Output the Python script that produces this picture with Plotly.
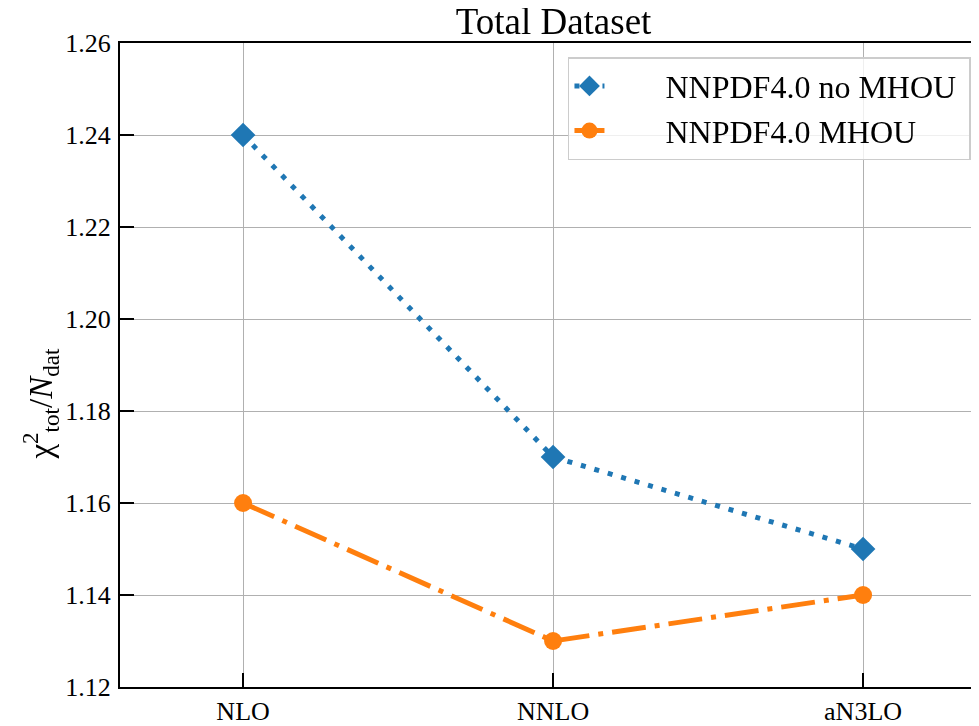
import plotly.graph_objects as go

categories = ["NLO", "NNLO", "aN3LO"]
no_mhou = [1.24, 1.17, 1.15]
mhou = [1.16, 1.13, 1.14]
y_ticks = [1.12, 1.14, 1.16, 1.18, 1.20, 1.22, 1.24, 1.26]
y_ticklabels = ["1.12", "1.14", "1.16", "1.18", "1.20", "1.22", "1.24", "1.26"]

FONT = "Liberation Serif"
BLUE = "#1f77b4"
ORANGE = "#ff7f0e"
NB = "\u00a0"

xidx = list(range(len(categories)))

fig = go.Figure()
fig.add_trace(go.Scatter(
    x=xidx, y=no_mhou, mode="lines+markers", name=NB * 7 + "NNPDF4.0 no MHOU" + NB,
    line=dict(color=BLUE, width=5, dash="5px,9px"),
    marker=dict(symbol="diamond", size=19, color=BLUE),
))
fig.add_trace(go.Scatter(
    x=xidx, y=mhou, mode="lines+markers", name=NB * 7 + "NNPDF4.0 MHOU",
    line=dict(color=ORANGE, width=5, dash="34px,9px,5px,9px"),
    marker=dict(symbol="circle", size=18, color=ORANGE),
))
# right-side ticks (axis overlay)
fig.add_trace(go.Scatter(
    x=xidx, y=mhou, yaxis="y2", mode="markers", showlegend=False,
    opacity=0, hoverinfo="skip", marker=dict(size=1),
))

fig.update_layout(
    width=971, height=718,
    margin=dict(l=112, r=0, t=35, b=35),
    paper_bgcolor="white", plot_bgcolor="white",
    font=dict(family=FONT, size=26, color="black"),
    title=dict(text="Total Dataset", font=dict(family=FONT, size=37, color="black"),
               x=0.5047, xanchor="center", xref="paper",
               y=0.982, yanchor="middle", yref="container"),
    xaxis=dict(
        range=[-0.397, 2.374], tickvals=xidx, ticktext=categories,
        showline=True, linecolor="black", linewidth=2, mirror=True,
        ticks="inside", ticklen=14, tickwidth=2, tickcolor="black",
        showgrid=True, gridcolor="#b0b0b0", gridwidth=1.2,
        zeroline=False, tickfont=dict(family=FONT, size=26),
    ),
    yaxis=dict(
        range=[1.12, 1.26], tickvals=y_ticks, ticktext=y_ticklabels,
        showline=True, linecolor="black", linewidth=2, mirror=False,
        ticks="inside", ticklen=14, tickwidth=2, tickcolor="black",
        showgrid=True, gridcolor="#b0b0b0", gridwidth=1.2,
        zeroline=False, tickfont=dict(family=FONT, size=26),
        ticklabelstandoff=2,
    ),
    yaxis2=dict(
        overlaying="y", side="right", range=[1.12, 1.26], tickvals=y_ticks,
        showticklabels=False, ticks="inside", ticklen=5, tickwidth=2,
        tickcolor="black", showline=False, showgrid=False, zeroline=False,
    ),
    legend=dict(
        x=0.5215, y=0.978, xanchor="left", yanchor="top",
        bgcolor="rgba(255,255,255,0.8)", bordercolor="#cccccc", borderwidth=1.5,
        font=dict(family=FONT, size=32, color="black"),
    ),
    annotations=[dict(
        text="χ<sup>2</sup><sub>tot</sub>/<i>N</i><sub>dat</sub>",
        xref="paper", yref="paper", x=-0.092, y=0.44,
        xanchor="center", yanchor="middle", textangle=-90, showarrow=False,
        font=dict(family=FONT, size=33, color="black"),
    )],
)

fig.write_html("out.html")
